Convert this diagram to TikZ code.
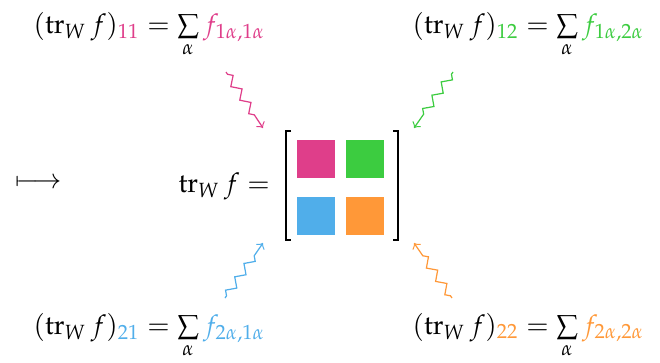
\documentclass[tikz,border=0pt]{standalone}
\usepackage{amsmath}
\usepackage{mathpazo}
\usetikzlibrary{decorations.pathmorphing}
\definecolor{cpink}{RGB}{223,62,138}
\definecolor{cgreen}{RGB}{60,204,64}
\definecolor{cblue}{RGB}{80,174,234}
\definecolor{corange}{RGB}{255,152,56}
\newcommand{\trW}{\operatorname{tr}_W f}

\begin{document}
\begin{tikzpicture}[x=0.37pt, y=-0.37pt,
    cell/.style={fill=#1, minimum size=14.06pt, inner sep=0pt},
    entry/.style={anchor=base west, inner sep=0pt},
    wiggle/.style={draw=#1, ->, line width=0.45pt, decorate,
        decoration={zigzag, segment length=6pt, amplitude=1.5pt, pre length=1pt, post length=4pt}}]
\useasboundingbox (0,0) rectangle (660,362);

% the four blocks
\node[cell=cpink]   (b11) at (316,159) {};
\node[cell=cgreen]  (b12) at (365,159) {};
\node[cell=cblue]   (b21) at (316,216) {};
\node[cell=corange] (b22) at (365,216) {};
\draw[line width=0.85pt] (291,131) -- (286,131) -- (286,240) -- (291,240);
\draw[line width=0.85pt] (393,131) -- (398,131) -- (398,240) -- (393,240);

\node[anchor=west, inner sep=0pt] (map) at (15,183) {$\longmapsto$};
\node[entry] (tr) at (178,192) {$\trW =$};

% the entries
\node[entry] (e11) at (33,33)  {$(\trW)_{\color{cpink}11} = \sum\limits_{\alpha} {\color{cpink}f_{1\alpha,1\alpha}}$};
\node[entry] (e12) at (412,33) {$(\trW)_{\color{cgreen}12} = \sum\limits_{\alpha} {\color{cgreen}f_{1\alpha,2\alpha}}$};
\node[entry] (e21) at (33,334) {$(\trW)_{\color{cblue}21} = \sum\limits_{\alpha} {\color{cblue}f_{2\alpha,1\alpha}}$};
\node[entry] (e22) at (412,334) {$(\trW)_{\color{corange}22} = \sum\limits_{\alpha} {\color{corange}f_{2\alpha,2\alpha}}$};

\coordinate (s11) at (226,72);  \coordinate (t11) at (263,128);
\coordinate (s12) at (453,72);  \coordinate (t12) at (414,128);
\coordinate (s21) at (225,298); \coordinate (t21) at (263,243);
\coordinate (s22) at (452,298); \coordinate (t22) at (414,243);

\draw[wiggle=cpink]   (s11) -- (t11);
\draw[wiggle=cgreen]  (s12) -- (t12);
\draw[wiggle=cblue]   (s21) -- (t21);
\draw[wiggle=corange] (s22) -- (t22);
\end{tikzpicture}
\end{document}
